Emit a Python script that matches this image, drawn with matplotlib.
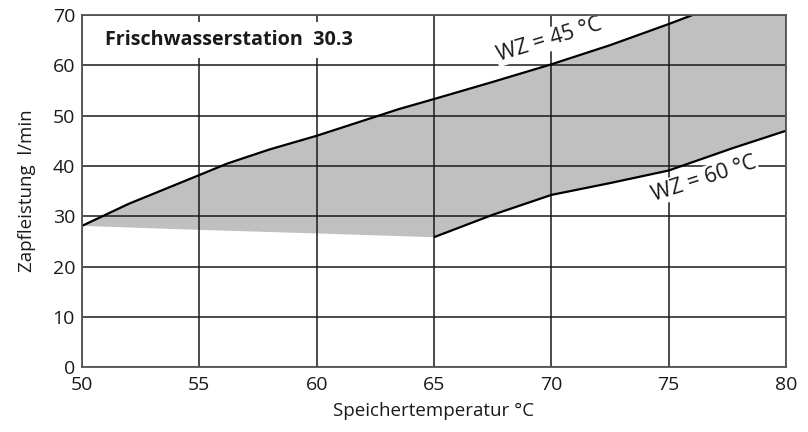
import numpy as np
import matplotlib
matplotlib.use("Agg")
import matplotlib.pyplot as plt

plt.rcParams['font.family'] = ['Open Sans', 'DejaVu Sans']

# Data
temp_upper = [50, 52, 55, 56.2, 58, 60, 63.5, 65, 67.5, 70, 72.5, 75, 78, 80]
flow_upper = [28.1, 32.5, 38.2, 40.5, 43.3, 46.0, 51.3, 53.3, 56.7, 60.2, 64.0, 68.2, 73.5, 77.0]

temp_lower_open = [50, 55, 60, 65]
flow_lower_open = [28.1, 27.3, 26.6, 25.85]

temp_lower = [65, 67.5, 70, 72.5, 75, 77.7, 80]
flow_lower = [25.85, 30.3, 34.25, 36.6, 39.1, 43.5, 47.0]

x_ticks = [50, 55, 60, 65, 70, 75, 80]
y_ticks = [0, 10, 20, 30, 40, 50, 60, 70]

title_text = "Frischwasserstation  30.3"
label_45 = "WZ = 45 °C"
label_60 = "WZ = 60 °C"

fig = plt.figure(figsize=(8.08, 4.32), dpi=100)
ax = fig.add_axes([82/808, 1-367.3/432, (786-82)/808, (367.3-15)/432])

ax.set_xlim(50, 80)
ax.set_ylim(0, 70)

# fill polygon
poly_x = list(temp_upper) + list(temp_lower[::-1]) + list(temp_lower_open[::-1][1:])
poly_y = list(flow_upper) + list(flow_lower[::-1]) + list(flow_lower_open[::-1][1:])
ax.fill(poly_x, poly_y, color='#c0c0c0', lw=0, zorder=1)

ax.set_xticks(x_ticks)
ax.set_yticks(y_ticks)
ax.grid(True, color='#1a1a1a', lw=1.1, zorder=2)
ax.set_axisbelow(False)
for g in ax.get_xgridlines() + ax.get_ygridlines():
    g.set_zorder(2)

ax.plot(temp_upper, flow_upper, color='black', lw=1.6, zorder=4, solid_capstyle='butt')
ax.plot(temp_lower, flow_lower, color='black', lw=1.6, zorder=4, solid_capstyle='butt')

ax.tick_params(length=0, labelsize=14, colors='#1a1a1a')
ax.tick_params(axis='x', pad=6)
ax.tick_params(axis='y', pad=5)
for s in ax.spines.values():
    s.set_color('#555555')
    s.set_linewidth(1.3)
    s.set_zorder(5)

ax.set_xlabel("Speichertemperatur °C", fontsize=13.5, color='#1a1a1a', labelpad=6)
ax.set_ylabel("Zapfleistung  l/min", fontsize=13.5, color='#1a1a1a', labelpad=12)

ax.text(51.0, 65.0, title_text, fontsize=14.2, fontweight='bold', color='#1a1a1a',
        ha='left', va='center', zorder=6,
        bbox=dict(facecolor='white', edgecolor='none', pad=6))

ax.text(69.9, 65.1, label_45, fontsize=15.5, color='#1a1a1a', rotation=17,
        ha='center', va='center', rotation_mode='anchor', zorder=3,
        bbox=dict(facecolor='white', edgecolor='none', pad=1))
ax.text(76.5, 37.5, label_60, fontsize=15.5, color='#1a1a1a', rotation=18,
        ha='center', va='center', rotation_mode='anchor', zorder=3,
        bbox=dict(facecolor='white', edgecolor='none', pad=1))

fig.savefig("out.png", dpi=100)
